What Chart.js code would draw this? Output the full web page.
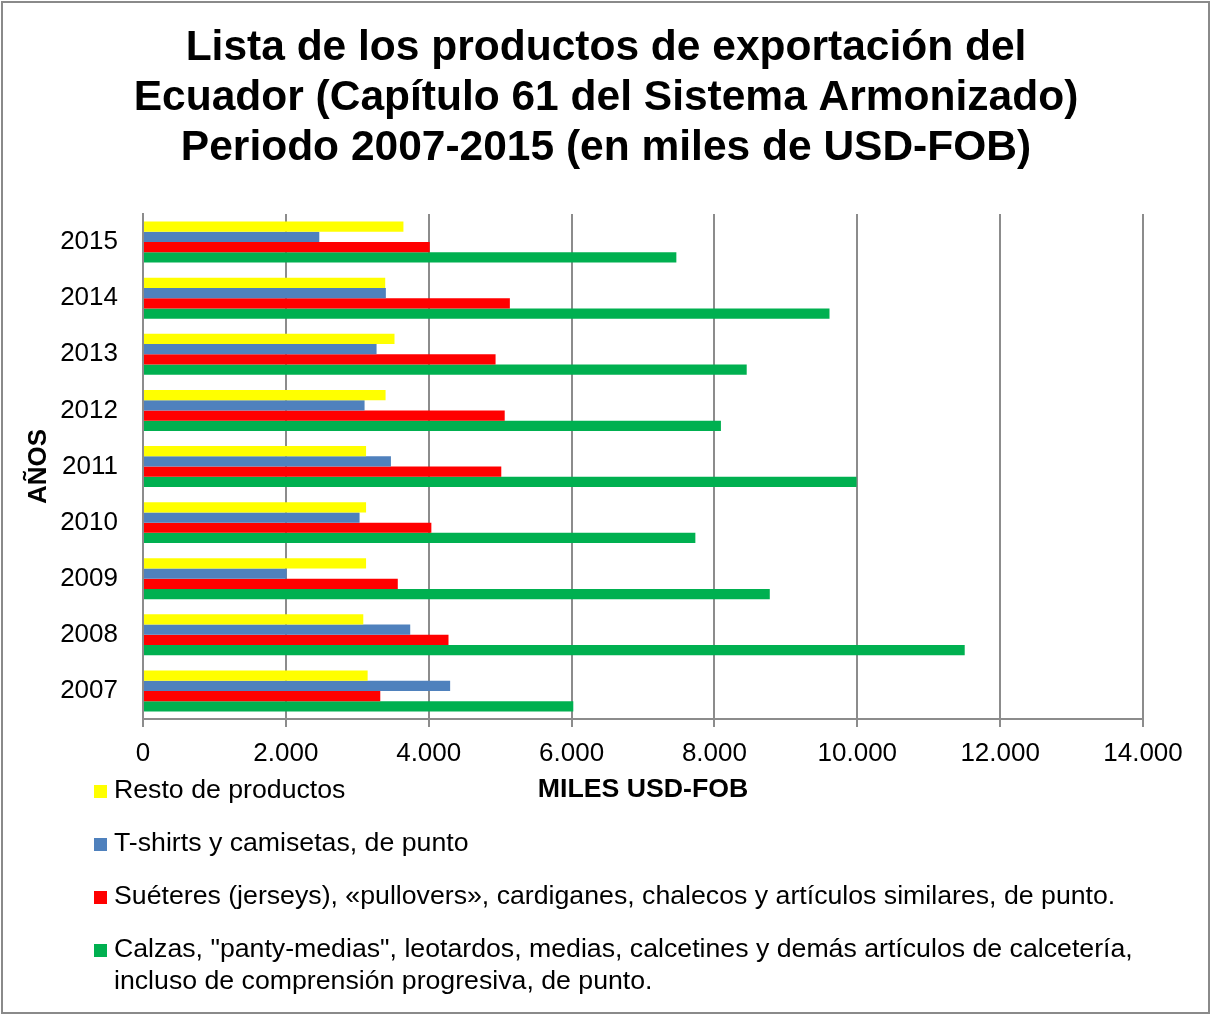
<!DOCTYPE html>
<html>
<head>
<meta charset="utf-8">
<script src="https://cdn.jsdelivr.net/npm/chart.js@4"></script>
<style>
    body { margin: 0; background: #ffffff; }
    #frame {
        position: absolute;
        left: 0; top: 0;
        width: 1212px; height: 1014px;
    }
    #border {
        position: absolute;
        left: 1px; top: 1px;
        width: 1205px; height: 1009px;
        border: 2px solid #8a8a8a;
        pointer-events: none;
    }
</style>
</head>
<body>
<div id="frame">
    <canvas id="exportChart" width="1212" height="1014"></canvas>
    <div id="border"></div>
</div>
<script>
// ============================
// DATA
// ============================

const years = ["2015", "2014", "2013", "2012", "2011", "2010", "2009", "2008", "2007"];

const resto = [3646, 3391, 3521, 3396, 3123, 3123, 3123, 3084, 3145];
const tshirts = [2468, 3400, 3270, 3102, 3471, 3032, 2011, 3741, 4300];
const sueteres = [4014, 5136, 4936, 5064, 5016, 4037, 3567, 4277, 3322];
const calzas = [7467, 9611, 8452, 8091, 9990, 7733, 8775, 11504, 6024];

const seriesNames = [
    "Resto de productos",
    "T-shirts y camisetas, de punto",
    "Suéteres (jerseys), «pullovers», cardiganes, chalecos y artículos similares, de punto.",
    "Calzas, \"panty-medias\", leotardos, medias, calcetines y demás artículos de calcetería, incluso de comprensión progresiva, de punto."
];

const titleLines = [
    "Lista de los productos de exportación del",
    "Ecuador (Capítulo 61 del Sistema Armonizado)",
    "Periodo 2007-2015 (en miles de USD-FOB)"
];

const FONT = "'Liberation Sans', Arial, Helvetica, sans-serif";

// formato con punto de miles: 2000 -> 2.000
function miles(v) {
    return String(v).replace(/\B(?=(\d{3})+(?!\d))/g, ".");
}

// ============================
// LEGEND (abajo, una serie por fila)
// ============================

const legendBelow = {
    id: "legendBelow",
    afterDraw(chart) {
        const ctx = chart.ctx;
        ctx.save();
        ctx.font = "26.7px " + FONT;
        ctx.textBaseline = "middle";
        ctx.textAlign = "left";

        let y = 791;
        chart.data.datasets.forEach(ds => {
            ctx.fillStyle = ds.backgroundColor;
            ctx.fillRect(94, y - 6, 13, 13);

            // partir el texto en lineas
            const words = ds.label.split(" ");
            const lines = [];
            let line = "";
            words.forEach(w => {
                const test = line ? line + " " + w : w;
                if (ctx.measureText(test).width > 1060 && line) {
                    lines.push(line);
                    line = w;
                } else {
                    line = test;
                }
            });
            lines.push(line);

            ctx.fillStyle = "#000000";
            lines.forEach((l, i) => {
                ctx.fillText(l, 114, y + i * 32);
            });
            y += 53;
        });
        ctx.restore();
    }
};

// ============================
// CHART
// ============================

new Chart(document.getElementById("exportChart"), {

    type: "bar",

    data: {
        labels: years,
        datasets: [
            { label: seriesNames[0], data: resto, backgroundColor: "#FFFF00" },
            { label: seriesNames[1], data: tshirts, backgroundColor: "#4F81BD" },
            { label: seriesNames[2], data: sueteres, backgroundColor: "#FF0000" },
            { label: seriesNames[3], data: calzas, backgroundColor: "#00B050" }
        ]
    },

    options: {
        indexAxis: "y",
        responsive: false,
        animation: false,
        devicePixelRatio: 1,

        datasets: {
            bar: {
                categoryPercentage: 0.73,
                barPercentage: 1.0,
                borderWidth: 0
            }
        },

        layout: {
            padding: { top: 0, left: 2, right: 2, bottom: 208 }
        },

        plugins: {
            legend: { display: false },
            tooltip: { enabled: false },
            title: {
                display: true,
                text: titleLines,
                color: "#000000",
                font: { family: FONT, size: 42.5, weight: "bold", lineHeight: 1.165 },
                padding: { top: 24, bottom: 41.5 }
            }
        },

        scales: {
            x: {
                min: 0,
                max: 14000,
                afterFit: scale => { scale.height = 87; },
                ticks: {
                    stepSize: 2000,
                    color: "#000000",
                    padding: 11,
                    font: { family: FONT, size: 26, lineHeight: 1.2 },
                    callback: v => miles(v)
                },
                grid: {
                    color: "#8c8c8c",
                    lineWidth: 2,
                    tickLength: 8,
                    drawTicks: true
                },
                border: { color: "#8c8c8c", width: 2 },
                title: {
                    display: true,
                    text: "MILES USD-FOB",
                    color: "#000000",
                    font: { family: FONT, size: 26.7, weight: "bold", lineHeight: 1.2 },
                    padding: { top: 7, bottom: 0 }
                }
            },
            y: {
                afterFit: scale => { scale.width = 141; },
                ticks: {
                    color: "#000000",
                    padding: 25,
                    font: { family: FONT, size: 26 }
                },
                grid: { display: false, drawTicks: false },
                border: { color: "#8c8c8c", width: 2 },
                title: {
                    display: true,
                    text: "AÑOS",
                    color: "#000000",
                    font: { family: FONT, size: 26, weight: "bold", lineHeight: 1.2 },
                    padding: { top: 21, bottom: 6 }
                }
            },
            // espacio vacio a la derecha del area de trazado
            margenDerecho: {
                type: "linear",
                axis: "y",
                position: "right",
                afterFit: scale => { scale.width = 67; },
                ticks: { display: false },
                grid: { display: false, drawTicks: false },
                border: { display: false }
            }
        }
    },

    plugins: [legendBelow]
});
</script>
</body>
</html>
